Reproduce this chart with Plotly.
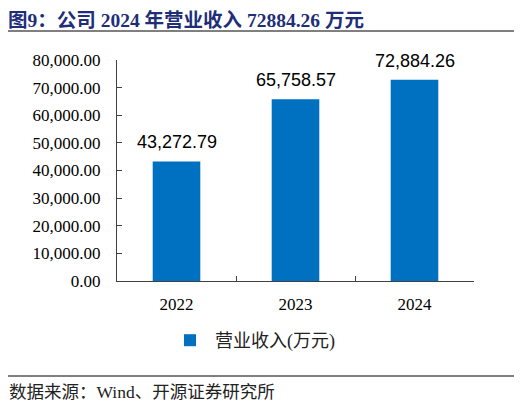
import plotly.graph_objects as go

categories = ["2022", "2023", "2024"]
revenue = [43272.79, 65758.57, 72884.26]
series_name = "营业收入(万元)"
title_text = "图9：公司 2024 年营业收入 72884.26 万元"
source_text = "数据来源：Wind、开源证券研究所"

# page body has an 8px default margin; work in reference pixels and offset
OFF = 8
W, H = 522 - OFF, 405 - OFF
# plot area in reference pixels: x 117..474, y 60..281
PX0, PX1, PY0, PY1 = 117, 474, 60, 281
L = PX0 - OFF
R = 522 - PX1
T = PY0 - OFF
B = 405 - PY1
pw = PX1 - PX0
ph = PY1 - PY0

def px_x(x):
    return (x - PX0) / pw

def px_y(y):
    return (PY1 - y) / ph

serif = "Liberation Serif, Times New Roman, Noto Sans CJK SC"
bar_color = "#0070C0"

fig = go.Figure()
fig.add_trace(go.Bar(
    x=categories, y=revenue, name=series_name,
    marker=dict(color=bar_color, line=dict(width=0)),
    width=0.4, showlegend=True,
))

for i, v in enumerate(revenue):
    fig.add_annotation(
        x=i, y=v, xref="x", yref="y", text=f"{v:,.2f}",
        showarrow=False, yanchor="bottom", yshift=7,
        font=dict(family="Liberation Sans, Arial", size=18, color="#000000"),
    )

fig.update_layout(
    width=W, height=H,
    margin=dict(l=L, r=R, t=T, b=B, autoexpand=False),
    paper_bgcolor="white", plot_bgcolor="white",
    legend=dict(
        orientation="h", xref="paper", yref="paper",
        x=px_x(165), xanchor="left", y=px_y(340.5), yanchor="middle",
        font=dict(family=serif, size=18, color="#222222"),
        bgcolor="rgba(0,0,0,0)", itemwidth=40,
    ),
    showlegend=True,
)

fig.update_xaxes(
    type="category", categoryorder="array", categoryarray=categories,
    range=[-0.5, len(categories) - 0.5], autorange=False,
    showline=True, linecolor="#404040", linewidth=1,
    ticks="inside", ticklen=5, tickcolor="#404040", tickson="boundaries",
    showgrid=False, tickangle=0, ticklabelstandoff=8,
    tickfont=dict(family=serif, size=17, color="#000000"),
)
fig.update_yaxes(
    range=[0, 80000], dtick=10000, tickformat=",.2f",
    showline=True, linecolor="#404040", linewidth=1,
    ticks="inside", ticklen=5, tickcolor="#404040",
    showgrid=False, zeroline=False, ticklabelstandoff=12,
    tickfont=dict(family=serif, size=17, color="#000000"),
)

fig.add_shape(type="line", xref="paper", yref="paper",
              x0=px_x(6), x1=px_x(516), y0=px_y(31), y1=px_y(31),
              line=dict(color="#000000", width=1))
fig.add_shape(type="line", xref="paper", yref="paper",
              x0=px_x(6), x1=px_x(516), y0=px_y(376), y1=px_y(376),
              line=dict(color="#000000", width=1))

fig.add_annotation(
    xref="paper", yref="paper", x=px_x(7), y=px_y(8.5),
    xanchor="left", yanchor="top", showarrow=False, borderpad=0,
    text=f"<b>{title_text}</b>",
    font=dict(family=serif, size=19.5, color="#1E2E78"),
)

fig.add_annotation(
    xref="paper", yref="paper", x=px_x(7), y=px_y(391.5),
    xanchor="left", yanchor="middle", showarrow=False,
    text=source_text,
    font=dict(family=serif, size=17.5, color="#222222"),
)

fig.write_html("out.html")
